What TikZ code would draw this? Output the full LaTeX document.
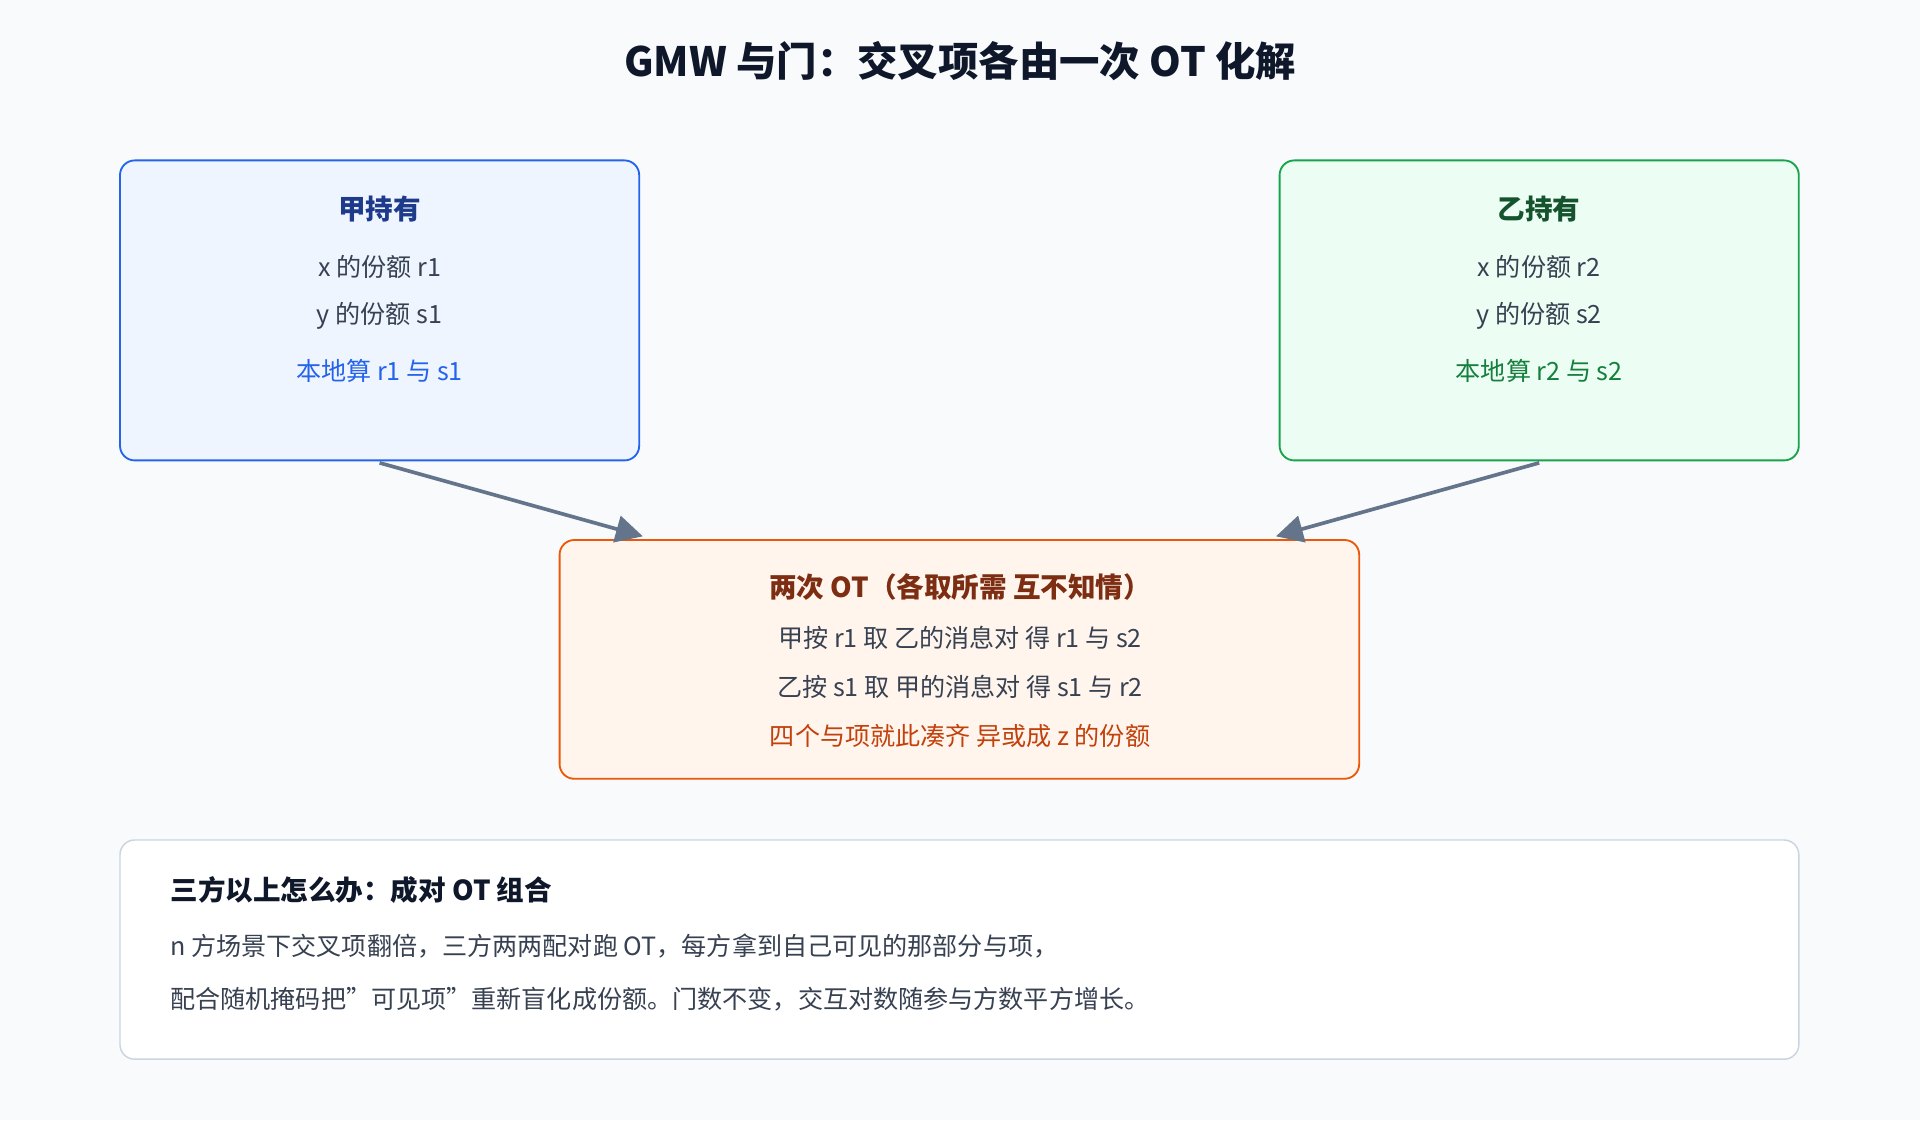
\documentclass[tikz,border=0pt]{standalone}
\usepackage{fontspec}
\setmainfont{Noto Sans CJK SC}
\usetikzlibrary{arrows.meta}
\definecolor{bg}{HTML}{F8FAFC}
\definecolor{txt}{HTML}{374151}
\begin{document}
\begin{tikzpicture}[x=1pt,y=-1pt,
 box/.style={draw,line width=1.5pt,rounded corners=12pt},
 ttl/.style={font=\fontsize{22.5}{26}\selectfont\bfseries},
 ln/.style={font=\fontsize{20.5}{24}\selectfont,text=txt},
 arr/.style={color={rgb,255:red,100;green,116;blue,139},line width=3pt,-{Triangle[length=22pt,width=22pt]}}]
\fill[bg] (0,0) rectangle (1568,915);
\useasboundingbox (0,0) rectangle (1568,915);
\node[font=\fontsize{33}{38}\selectfont\bfseries,text={rgb,255:red,15;green,23;blue,42}] (title) at (784,50) {GMW 与门：交叉项各由一次 OT 化解};
% A
\path[box,draw={rgb,255:red,37;green,99;blue,235},fill={rgb,255:red,238;green,245;blue,255}] (98,131) rectangle (522,376);
\node[ttl,text={rgb,255:red,30;green,58;blue,138}] (at) at (310,171) {甲持有};
\node[ln] (a1) at (310,218) {x 的份额 r1};
\node[ln] (a2) at (310,258) {y 的份额 s1};
\node[ln,text={rgb,255:red,37;green,99;blue,235}] (a3) at (310,303) {本地算 r1 与 s1};
% B
\path[box,draw={rgb,255:red,22;green,163;blue,74},fill={rgb,255:red,236;green,253;blue,243}] (1045,131) rectangle (1469,376);
\node[ttl,text={rgb,255:red,20;green,83;blue,45}] (bt) at (1257,171) {乙持有};
\node[ln] (b1) at (1257,218) {x 的份额 r2};
\node[ln] (b2) at (1257,258) {y 的份额 s2};
\node[ln,text={rgb,255:red,21;green,128;blue,61}] (b3) at (1257,303) {本地算 r2 与 s2};
% C
\path[box,draw={rgb,255:red,234;green,88;blue,12},fill={rgb,255:red,255;green,245;blue,236}] (457,441) rectangle (1110,636);
\node[ttl,text={rgb,255:red,124;green,45;blue,18}] (ct) at (784,479) {两次 OT（各取所需 互不知情）};
\node[ln] (c1) at (784,521) {甲按 r1 取 乙的消息对 得 r1 与 s2};
\node[ln] (c2) at (784,561) {乙按 s1 取 甲的消息对 得 s1 与 r2};
\node[ln,text={rgb,255:red,194;green,65;blue,12}] (c3) at (784,601) {四个与项就此凑齐 异或成 z 的份额};
% D
\path[box,line width=1.2pt,draw={rgb,255:red,203;green,213;blue,225},fill=white] (98,686) rectangle (1469,865);
\node[ttl,anchor=west,inner sep=0pt,text={rgb,255:red,15;green,23;blue,42}] (dt) at (139,727) {三方以上怎么办：成对 OT 组合};
\node[ln,anchor=west,inner sep=0pt] (d1) at (139,773) {n 方场景下交叉项翻倍，三方两两配对跑 OT，每方拿到自己可见的那部分与项，};
\node[ln,anchor=west,inner sep=0pt] (d2) at (139,816) {配合随机掩码把\char34 可见项\char34 重新盲化成份额。门数不变，交互对数随参与方数平方增长。};
% arrows
\coordinate (as) at (310,378); \coordinate (ce1) at (525,438);
\coordinate (bs) at (1257,378); \coordinate (ce2) at (1042,438);
\draw[arr] (as) -- (ce1);
\draw[arr] (bs) -- (ce2);
\end{tikzpicture}
\end{document}
